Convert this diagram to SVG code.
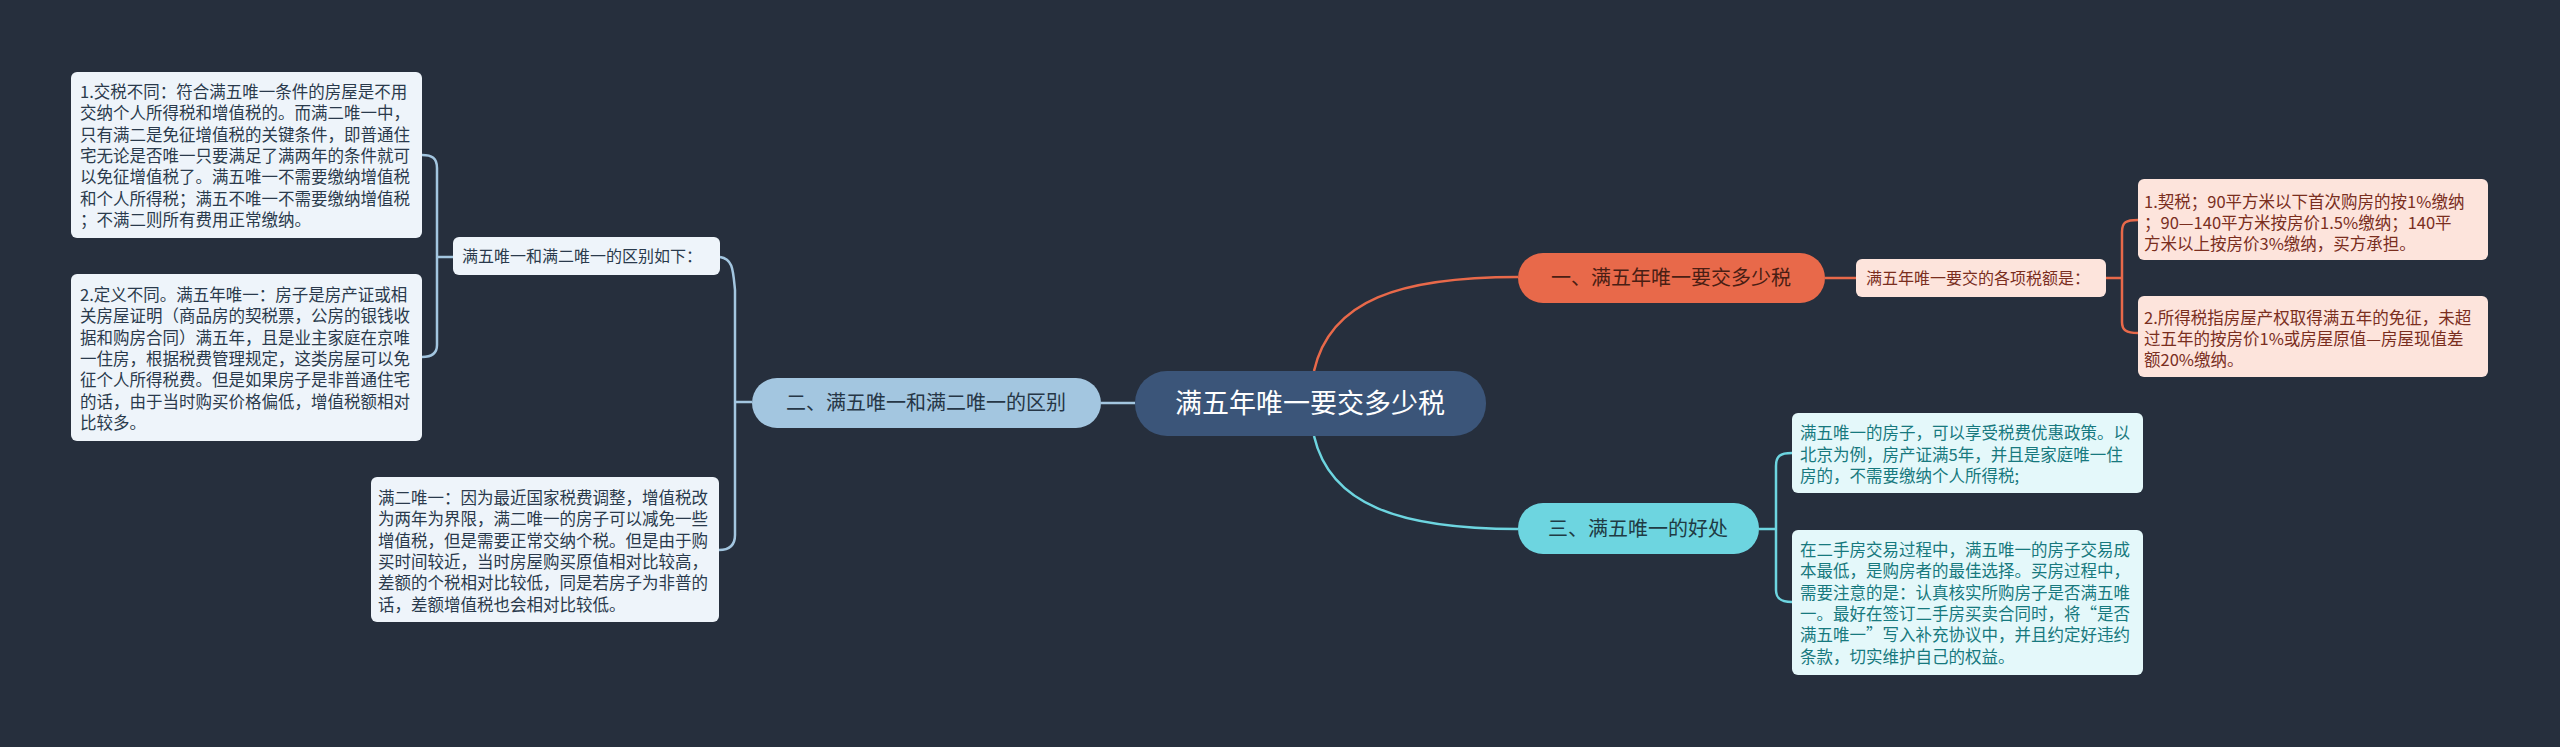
<svg xmlns="http://www.w3.org/2000/svg" width="2560" height="747" viewBox="0 0 2560 747">
<style>
text{font-family:"Noto Sans CJK SC","Noto Sans",sans-serif}
.lf{font-size:16.5px}
.b{fill:#2a3a4c}.bf{fill:#eef4fa}
.o{fill:#7a2e1e}.of{fill:#fde4dc}
.c{fill:#17797e}.cf{fill:#e4f8fa}
.ln{fill:none;stroke-width:2.5}
</style>
<rect width="2560" height="747" fill="#262f3d"/>
<g id="connectors">
<path class="ln" stroke="#e8694a" d="M1314,371 C1330,300 1400,277 1518,277"/>
<path class="ln" stroke="#6dd5e0" d="M1314,436 C1330,505 1400,529 1518,529"/>
<path class="ln" stroke="#a3c6e0" d="M1135,403 H1101"/>
<path class="ln" stroke="#e8694a" d="M1825,278 H1856"/>
<path class="ln" stroke="#e8694a" d="M2106,278 H2122 M2138,220 C2126,220 2122,222 2122,232 V322 C2122,330 2126,333 2138,333"/>
<path class="ln" stroke="#6dd5e0" d="M1759,529 H1776 M1792,453 C1780,453 1776,456 1776,466 V590 C1776,598 1780,602 1792,602"/>
<path class="ln" stroke="#a3c6e0" d="M720,257 C733,259 733,270 735,290 V535 C735,545 730,550 719,550 M735,402 H752"/>
<path class="ln" stroke="#a3c6e0" d="M453,257 H437 M422,155 C432,155 437,158 437,168 V345 C437,353 432,357 422,357"/>
</g>
<g id="root">
<rect x="1135" y="371" width="351" height="65" rx="32" fill="#3b5579"/>
<text x="1310" y="413" font-size="27" fill="#fff" text-anchor="middle">满五年唯一要交多少税</text>
</g>
<g id="b1">
<rect x="1518" y="253" width="307" height="50" rx="25" fill="#e8694a"/>
<text x="1671" y="285" font-size="20" fill="#4a1e14" text-anchor="middle">一、满五年唯一要交多少税</text>
</g>
<g id="s1">
<rect x="1856" y="259" width="250" height="38" rx="6" class="of"/>
<text x="1866" y="284" font-size="16" class="o">满五年唯一要交的各项税额是：</text>
</g>
<g id="l1a">
<rect x="2138" y="179" width="350" height="81" rx="6" class="of"/>
<text class="lf o" x="2144" y="208">1.契税；90平方米以下首次购房的按1%缴纳<tspan x="2144" dy="21">；90—140平方米按房价1.5%缴纳；140平</tspan><tspan x="2144" dy="21">方米以上按房价3%缴纳，买方承担。</tspan></text>
</g>
<g id="l1b">
<rect x="2138" y="296" width="350" height="81" rx="6" class="of"/>
<text class="lf o" x="2144" y="324">2.所得税指房屋产权取得满五年的免征，未超<tspan x="2144" dy="21">过五年的按房价1%或房屋原值—房屋现值差</tspan><tspan x="2144" dy="21">额20%缴纳。</tspan></text>
</g>
<g id="b2">
<rect x="752" y="378" width="349" height="50" rx="25" fill="#a3c6e0"/>
<text x="926" y="410" font-size="20" fill="#263646" text-anchor="middle">二、满五唯一和满二唯一的区别</text>
</g>
<g id="s2">
<rect x="453" y="237" width="267" height="38" rx="6" class="bf"/>
<text x="462" y="262" font-size="16" class="b">满五唯一和满二唯一的区别如下：</text>
</g>
<g id="l2a">
<rect x="71" y="72" width="351" height="166" rx="6" class="bf"/>
<text class="lf b" x="80" y="98">1.交税不同：符合满五唯一条件的房屋是不用<tspan x="80" dy="21.3">交纳个人所得税和增值税的。而满二唯一中，</tspan><tspan x="80" dy="21.3">只有满二是免征增值税的关键条件，即普通住</tspan><tspan x="80" dy="21.3">宅无论是否唯一只要满足了满两年的条件就可</tspan><tspan x="80" dy="21.3">以免征增值税了。满五唯一不需要缴纳增值税</tspan><tspan x="80" dy="21.3">和个人所得税；满五不唯一不需要缴纳增值税</tspan><tspan x="80" dy="21.3">；不满二则所有费用正常缴纳。</tspan></text>
</g>
<g id="l2b">
<rect x="71" y="274" width="351" height="167" rx="6" class="bf"/>
<text class="lf b" x="80" y="301">2.定义不同。满五年唯一：房子是房产证或相<tspan x="80" dy="21.3">关房屋证明（商品房的契税票，公房的银钱收</tspan><tspan x="80" dy="21.3">据和购房合同）满五年，且是业主家庭在京唯</tspan><tspan x="80" dy="21.3">一住房，根据税费管理规定，这类房屋可以免</tspan><tspan x="80" dy="21.3">征个人所得税费。但是如果房子是非普通住宅</tspan><tspan x="80" dy="21.3">的话，由于当时购买价格偏低，增值税额相对</tspan><tspan x="80" dy="21.3">比较多。</tspan></text>
</g>
<g id="l2c">
<rect x="371" y="477" width="348" height="145" rx="6" class="bf"/>
<text class="lf b" x="378" y="504">满二唯一：因为最近国家税费调整，增值税改<tspan x="378" dy="21.3">为两年为界限，满二唯一的房子可以减免一些</tspan><tspan x="378" dy="21.3">增值税，但是需要正常交纳个税。但是由于购</tspan><tspan x="378" dy="21.3">买时间较近，当时房屋购买原值相对比较高，</tspan><tspan x="378" dy="21.3">差额的个税相对比较低，同是若房子为非普的</tspan><tspan x="378" dy="21.3">话，差额增值税也会相对比较低。</tspan></text>
</g>
<g id="b3">
<rect x="1518" y="503" width="241" height="51" rx="25" fill="#6dd5e0"/>
<text x="1638" y="536" font-size="20" fill="#1f3b44" text-anchor="middle">三、满五唯一的好处</text>
</g>
<g id="l3a">
<rect x="1792" y="413" width="351" height="80" rx="6" class="cf"/>
<text class="lf c" x="1800" y="439">满五唯一的房子，可以享受税费优惠政策。以<tspan x="1800" dy="21.7">北京为例，房产证满5年，并且是家庭唯一住</tspan><tspan x="1800" dy="21.7">房的，不需要缴纳个人所得税;</tspan></text>
</g>
<g id="l3b">
<rect x="1792" y="530" width="351" height="145" rx="6" class="cf"/>
<text class="lf c" x="1800" y="556">在二手房交易过程中，满五唯一的房子交易成<tspan x="1800" dy="21.3">本最低，是购房者的最佳选择。买房过程中，</tspan><tspan x="1800" dy="21.3">需要注意的是：认真核实所购房子是否满五唯</tspan><tspan x="1800" dy="21.3">一。最好在签订二手房买卖合同时，将“是否</tspan><tspan x="1800" dy="21.3">满五唯一”写入补充协议中，并且约定好违约</tspan><tspan x="1800" dy="21.3">条款，切实维护自己的权益。</tspan></text>
</g>
</svg>
